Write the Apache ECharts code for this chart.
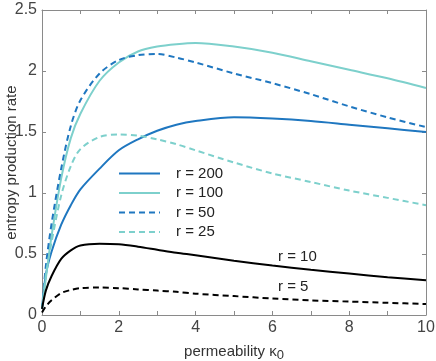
<!DOCTYPE html>
<html>
<head>
<meta charset="utf-8">
<script src="https://cdn.jsdelivr.net/npm/echarts@6/dist/echarts.min.js"></script>
<style>
  html, body { margin: 0; padding: 0; background: #fff; }
  #chart { width: 436px; height: 361px; }
</style>
</head>
<body>
<div id="chart"></div>
<script>
// sample positions of permeability kappa0
const kappa = [0, 0.1, 0.25, 0.5, 0.75, 1, 1.5, 2, 2.5, 3, 3.5, 4, 5, 6, 7, 8, 9, 10]

// entropy production rate
const r200 = [0.05, 0.33, 0.52, 0.74, 0.90, 1.03, 1.20, 1.35, 1.44, 1.51, 1.56, 1.59, 1.62, 1.61, 1.59, 1.56, 1.53, 1.50]
const r100 = [0.05, 0.30, 0.65, 1.12, 1.45, 1.65, 1.92, 2.07, 2.16, 2.20, 2.22, 2.23, 2.20, 2.15, 2.08, 2.01, 1.94, 1.86]
const r50  = [0.05, 0.40, 0.75, 1.20, 1.55, 1.76, 1.98, 2.09, 2.13, 2.14, 2.11, 2.07, 1.98, 1.90, 1.81, 1.71, 1.62, 1.54]
const r25  = [0.05, 0.33, 0.60, 0.98, 1.22, 1.36, 1.46, 1.48, 1.47, 1.44, 1.40, 1.35, 1.25, 1.16, 1.09, 1.02, 0.96, 0.90]
const r10  = [0.05, 0.20, 0.32, 0.46, 0.53, 0.57, 0.585, 0.58, 0.56, 0.535, 0.51, 0.49, 0.445, 0.405, 0.37, 0.34, 0.31, 0.285]
const r5   = [0.02, 0.07, 0.12, 0.18, 0.205, 0.22, 0.225, 0.22, 0.21, 0.20, 0.19, 0.175, 0.155, 0.135, 0.12, 0.11, 0.10, 0.09]

const legendNames = ['r = 200', 'r = 100', 'r = 50', 'r = 25']

const darkBlue = '#1f77c0'
const lightTeal = '#7dd0cc'
const axisGray = '#8a8a8a'
const font = "'Liberation Sans', Arial, sans-serif"

function pairs(ys) {
  return kappa.map((k, i) => [k, ys[i]])
}

function lineSeries(name, ys, color, dashed) {
  return {
    name: name,
    type: 'line',
    data: pairs(ys),
    smooth: 0.3,
    symbol: 'none',
    lineStyle: { color: color, width: 2, type: dashed ? [6, 4] : 'solid' },
    itemStyle: { color: color },
    emphasis: { disabled: true },
    silent: true,
    z: 3
  }
}

const chart = echarts.init(document.getElementById('chart'))

const tickCommon = {
  axisLine: { show: true, onZero: false, lineStyle: { color: axisGray, width: 1 } },
  axisTick: { show: true, inside: true, length: 4, lineStyle: { color: axisGray } },
  splitLine: { show: false }
}

chart.setOption({
  animation: false,
  grid: { left: 42, right: 10, top: 10, bottom: 46, outerBoundsMode: 'none', containLabel: false },
  legend: {
    data: legendNames,
    orient: 'vertical',
    left: 118,
    top: 166,
    padding: 0,
    itemWidth: 41,
    itemHeight: 12,
    itemGap: 4.5,
    itemStyle: { opacity: 0 },
    textStyle: { fontFamily: font, fontSize: 15, color: '#222', padding: [0, 0, 0, 11] },
    selectedMode: false
  },
  xAxis: [
    Object.assign({
      type: 'value', min: 0, max: 10, interval: 1,
      name: 'permeability κ{sub|0}',
      nameLocation: 'middle',
      nameGap: 27,
      nameTextStyle: {
        fontFamily: font, fontSize: 15, color: '#333',
        rich: { sub: { fontFamily: font, fontSize: 13, color: '#333', verticalAlign: 'bottom', padding: [7, 0, 0, 0] } }
      },
      axisLabel: {
        fontFamily: font, fontSize: 16, color: '#444', margin: 5,
        formatter: v => (v % 2 === 0 ? String(v) : '')
      }
    }, tickCommon),
    Object.assign({
      type: 'value', min: 0, max: 10, interval: 1, position: 'top',
      axisLabel: { show: false }
    }, tickCommon)
  ],
  yAxis: [
    Object.assign({
      type: 'value', min: 0, max: 2.5, interval: 0.5,
      name: 'entropy production rate',
      nameLocation: 'middle',
      nameGap: 23,
      nameMoveOverlap: false,
      nameTextStyle: { fontFamily: font, fontSize: 15, color: '#333' },
      axisLabel: { fontFamily: font, fontSize: 16, color: '#444', margin: 5 }
    }, tickCommon),
    Object.assign({
      type: 'value', min: 0, max: 2.5, interval: 0.5, position: 'right',
      axisLabel: { show: false }
    }, tickCommon)
  ],
  graphic: [
    { type: 'text', left: 278, top: 249, style: { text: 'r = 10', fontFamily: font, fontSize: 15, fill: '#222' } },
    { type: 'text', left: 278, top: 279, style: { text: 'r = 5', fontFamily: font, fontSize: 15, fill: '#222' } }
  ],
  series: [
    lineSeries('r = 200', r200, darkBlue, false),
    lineSeries('r = 100', r100, lightTeal, false),
    lineSeries('r = 50', r50, darkBlue, true),
    lineSeries('r = 25', r25, lightTeal, true),
    lineSeries('r = 10', r10, '#000', false),
    lineSeries('r = 5', r5, '#000', true)
  ]
})
</script>
</body>
</html>
